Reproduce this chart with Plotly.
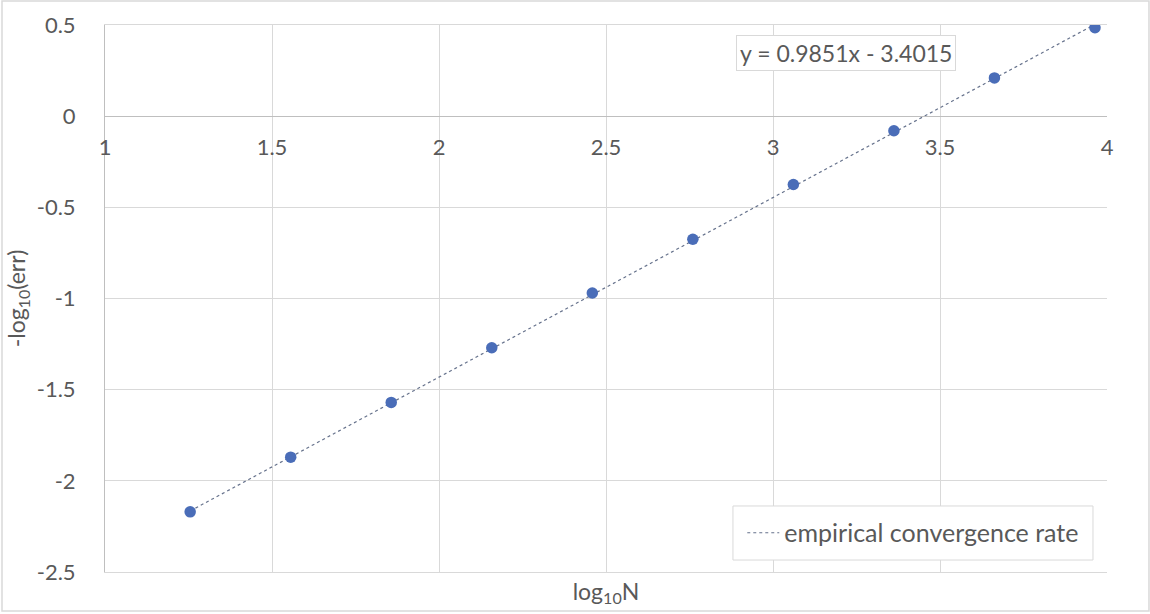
import numpy as np
import plotly.graph_objects as go

# log10 of problem size and -log10 of error
log_n = [1.255, 1.556, 1.857, 2.158, 2.459, 2.760, 3.061, 3.362, 3.663, 3.964]
neg_log_err = [-2.17, -1.87, -1.57, -1.27, -0.97, -0.675, -0.375, -0.08, 0.21, 0.485]

# linear trendline reported on the chart
slope = 0.9851
intercept = -3.4015
equation = "y = 0.9851x - 3.4015"

x_ticks = [1, 1.5, 2, 2.5, 3, 3.5, 4]
y_ticks = [-2.5, -2, -1.5, -1, -0.5, 0, 0.5]

FONT = "Lato, Carlito, sans-serif"
TXT = "#595959"
GRID = "#d9d9d9"
AXIS = "#bfbfbf"

fig = go.Figure()

# trendline drawn across the span of the data
tx = np.array([min(log_n), max(log_n)])
fig.add_trace(go.Scatter(
    x=tx, y=slope * tx + intercept,
    mode="lines",
    name="empirical convergence rate",
    line=dict(color="#66728c", width=1.2, dash="dot"),
))

fig.add_trace(go.Scatter(
    x=log_n, y=neg_log_err,
    mode="markers",
    marker=dict(color="#4a6db8", size=11.5),
    showlegend=False,
))

# invisible trace on the free axis so tick labels render at y = 0
fig.add_trace(go.Scatter(
    x=[x_ticks[0], x_ticks[-1]], y=[0, 0], xaxis="x2",
    mode="lines", line=dict(width=0), hoverinfo="skip", showlegend=False,
))

fig.add_annotation(
    x=3.218, y=0.345, xref="x", yref="y",
    text=equation, showarrow=False,
    font=dict(family=FONT, size=23, color=TXT),
    bgcolor="white", bordercolor=GRID, borderwidth=1, borderpad=3,
)

# outer chart frame
fig.add_shape(
    type="rect", xref="paper", yref="paper",
    x0=-0.1028, x1=1.0419, y0=-0.0713, y1=1.0439,
    line=dict(color=GRID, width=1.5),
)
# legend box (taller than plotly's own legend border)
fig.add_shape(
    type="rect", xref="paper", yref="paper",
    x0=0.6267, x1=0.986, y0=0.0219, y1=0.1207,
    line=dict(color=GRID, width=1), fillcolor="white", layer="above",
)

fig.update_layout(
    width=1150, height=614,
    template="plotly_white",
    paper_bgcolor="white", plot_bgcolor="white",
    margin=dict(l=105, r=43, t=25, b=42, autoexpand=False),
    font=dict(family=FONT, size=22, color=TXT),
    showlegend=True,
    legend=dict(
        x=0.636, y=0.0713, xanchor="left", yanchor="middle",
        bgcolor="rgba(0,0,0,0)", borderwidth=0,
        font=dict(family=FONT, size=25, color=TXT),
        itemwidth=32, tracegroupgap=0,
    ),
    xaxis=dict(
        range=[1, 4], tickvals=x_ticks, showticklabels=False,
        showgrid=True, gridcolor=GRID, gridwidth=1,
        zeroline=False, showline=True, linecolor=GRID, mirror=True,
        ticks="",
        title=dict(text="log<sub>10</sub>N", standoff=11,
                   font=dict(family=FONT, size=23, color=TXT)),
    ),
    xaxis2=dict(
        range=[1, 4], tickvals=x_ticks, ticktext=[f"{v:g}" for v in x_ticks],
        overlaying="x", anchor="free", position=2.5 / 3, side="bottom",
        showgrid=False, zeroline=False, showline=True, linecolor=AXIS,
        ticks="", ticklabelstandoff=11,
        tickfont=dict(family=FONT, size=22, color=TXT),
    ),
    yaxis=dict(
        range=[-2.5, 0.5], tickvals=y_ticks, ticktext=[f"{v:g}" for v in y_ticks],
        showgrid=True, gridcolor=GRID, gridwidth=1,
        zeroline=False, showline=True, linecolor=AXIS, mirror=False,
        ticks="", ticklabelstandoff=24,
        tickfont=dict(family=FONT, size=22, color=TXT),
        title=dict(text="-log<sub>10</sub>(err)", standoff=4,
                   font=dict(family=FONT, size=23, color=TXT)),
    ),
)

# drop the default page margin so the figure sits at the window origin
fig.write_html(
    "out.html",
    config={"displayModeBar": False},
    post_script="document.body.style.margin = '0px';",
)
